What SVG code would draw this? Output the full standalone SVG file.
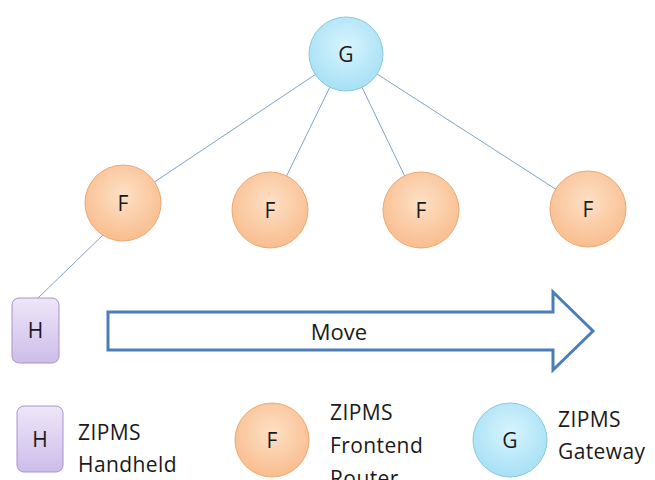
<svg xmlns="http://www.w3.org/2000/svg" width="655" height="480" viewBox="0 0 655 480">
<defs>
<radialGradient id="gG" cx="0.5" cy="0.4" r="0.6"><stop offset="0" stop-color="#d8f4fd"/><stop offset="1" stop-color="#a6e0f5"/></radialGradient>
<radialGradient id="gF" cx="0.5" cy="0.4" r="0.6"><stop offset="0" stop-color="#fde0c6"/><stop offset="1" stop-color="#f9bd8e"/></radialGradient>
<linearGradient id="gH" x1="0" y1="0" x2="0" y2="1"><stop offset="0" stop-color="#eee6f8"/><stop offset="1" stop-color="#cdbdea"/></linearGradient>
</defs>
<style>
.g{fill:url(#gG);stroke:#8cc8de;stroke-width:1}
.f{fill:url(#gF);stroke:#eba873;stroke-width:1}
.h{fill:url(#gH);stroke:#a892cc;stroke-width:1}
.lbl{font-family:"Open Sans","Liberation Sans",sans-serif;font-size:21px;fill:#1a1a1a;text-anchor:middle;dominant-baseline:central}
.leg{font-family:"Open Sans","Liberation Sans",sans-serif;font-size:21px;fill:#1a1a1a;letter-spacing:0.4px}
.con{stroke:#7ea3c9;stroke-width:1;fill:none}
</style>
<rect width="655" height="480" fill="#ffffff"/>
<g id="connectors">
<line class="con" x1="346" y1="54" x2="123" y2="203"/>
<line class="con" x1="346" y1="54" x2="270" y2="210"/>
<line class="con" x1="346" y1="54" x2="421" y2="210"/>
<line class="con" x1="346" y1="54" x2="588" y2="210"/>
<line class="con" x1="104" y1="234" x2="38" y2="298"/>
</g>
<g id="G"><circle class="g" cx="346" cy="54" r="37"/><text class="lbl" x="346" y="54">G</text></g>
<g id="F1"><circle class="f" cx="123" cy="203" r="38"/><text class="lbl" x="123" y="203">F</text></g>
<g id="F2"><circle class="f" cx="270" cy="210" r="38"/><text class="lbl" x="270" y="210">F</text></g>
<g id="F3"><circle class="f" cx="421" cy="210" r="38"/><text class="lbl" x="421" y="210">F</text></g>
<g id="F4"><circle class="f" cx="588" cy="209" r="38"/><text class="lbl" x="588" y="209">F</text></g>
<g id="H"><rect class="h" x="12" y="298" width="47" height="65" rx="7"/><text class="lbl" x="35.5" y="330">H</text></g>
<g id="move">
<path d="M108,312 L553,312 L553,292 L593,331 L553,370 L553,350 L108,350 Z" fill="#ffffff" stroke="#4a7ebb" stroke-width="3" stroke-linejoin="miter"/>
<text class="lbl" x="339" y="331" style="font-size:22px">Move</text>
</g>
<g id="legend-H"><rect class="h" x="17" y="406" width="46" height="66" rx="7"/><text class="lbl" x="40" y="439">H</text>
<text class="leg" x="78" y="440">ZIPMS</text><text class="leg" x="78" y="472">Handheld</text></g>
<g id="legend-F"><circle class="f" cx="272" cy="440" r="37"/><text class="lbl" x="272" y="440">F</text>
<text class="leg" x="330" y="420">ZIPMS</text><text class="leg" x="330" y="453">Frontend</text><text class="leg" x="330" y="486">Router</text></g>
<g id="legend-G"><circle class="g" cx="510" cy="440" r="37"/><text class="lbl" x="510" y="440">G</text>
<text class="leg" x="558" y="427">ZIPMS</text><text class="leg" x="558" y="459">Gateway</text></g>
</svg>
